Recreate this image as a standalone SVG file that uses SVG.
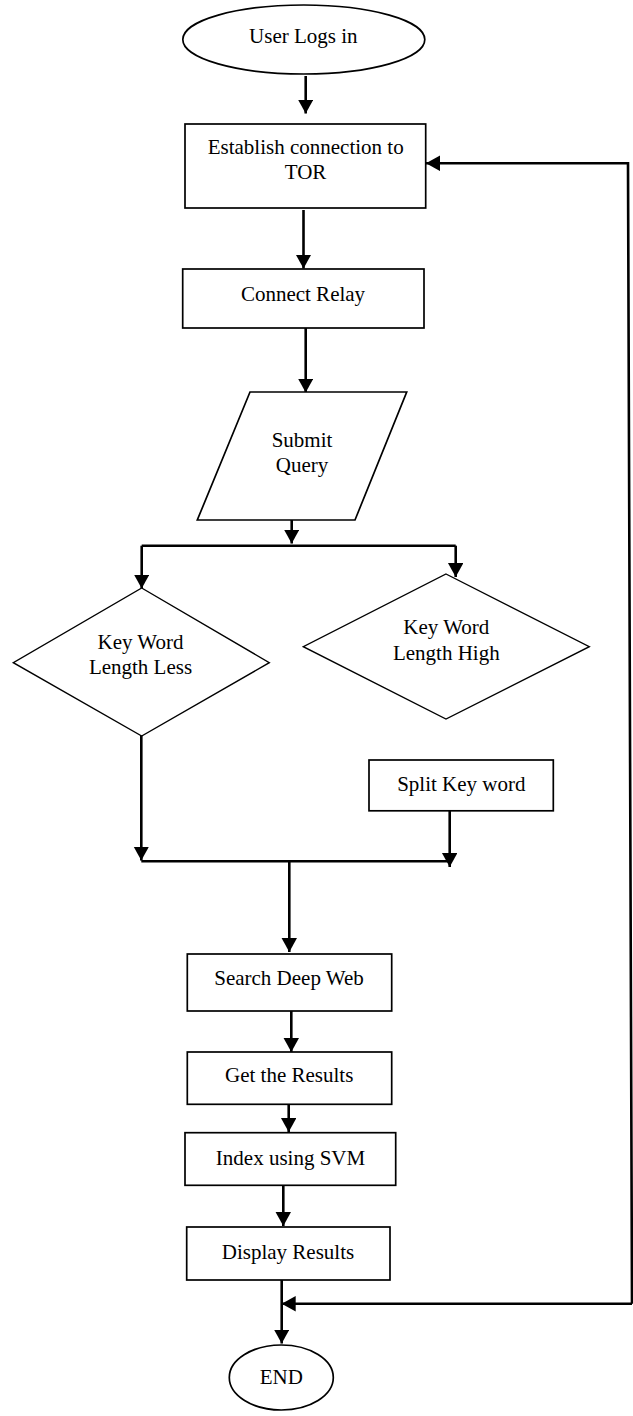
<svg xmlns="http://www.w3.org/2000/svg" width="633" height="1416" viewBox="0 0 633 1416">
<style>
.n{fill:#fff;stroke:#000;stroke-width:1.7}
.d{fill:#fff;stroke:#000;stroke-width:1.4}
.t{font-family:"Liberation Serif","Times New Roman",serif;font-size:21px;fill:#000;text-anchor:middle}
.c{fill:none;stroke:#000;stroke-width:2.6}
.a{marker-end:url(#ah)}
</style>
<defs>
<marker id="ah" markerUnits="userSpaceOnUse" markerWidth="15" markerHeight="16" refX="14" refY="7.75" orient="auto" viewBox="0 0 15 16">
<path d="M0,0 L14,7.75 L0,15.5 z" fill="#000"/>
</marker>
</defs>
<rect width="633" height="1416" fill="#fff"/>
<g id="connectors">
<path class="c a" d="M305.7,76 L305.7,113.5"/>
<path class="c a" d="M303.5,210 L303.5,268.5"/>
<path class="c a" d="M305.7,328 L305.7,392.5"/>
<path class="c a" d="M291.7,520 L291.7,543.5"/>
<path class="c" d="M141.7,545.7 L455.7,545.7"/>
<path class="c a" d="M141.7,545.7 L141.7,588.5"/>
<path class="c a" d="M455.7,545.7 L455.7,577"/>
<path class="c a" d="M141.3,736 L141.3,860.5"/>
<path class="c" d="M141.3,861.3 L449.7,861.3"/>
<path class="c a" d="M449.7,811 L449.7,867"/>
<path class="c a" d="M289.3,861.3 L289.3,952"/>
<path class="c a" d="M291.3,1011 L291.3,1052"/>
<path class="c a" d="M288.7,1104.3 L288.7,1132"/>
<path class="c a" d="M283.3,1185.3 L283.3,1226"/>
<path class="c a" d="M281.7,1280 L281.7,1343.5"/>
<path class="c a" d="M632,1303.8 L281.7,1303.8"/>
<path class="c a" d="M632,1303.8 L628,163.3 L426,163.3"/>
</g>
<g id="start">
<ellipse class="n" cx="303.8" cy="39.5" rx="121" ry="34.5"/>
<text class="t" x="303.3" y="43">User Logs in</text>
</g>
<g id="establish">
<rect class="n" x="185" y="124" width="240.7" height="84"/>
<text class="t" x="305.7" y="154">Establish connection to</text>
<text class="t" x="305.5" y="179">TOR</text>
</g>
<g id="relay">
<rect class="n" x="182.7" y="269" width="241.3" height="59"/>
<text class="t" x="303" y="300.7">Connect Relay</text>
</g>
<g id="query">
<polygon class="n" points="250,392 406.7,392 355,520 197.3,520"/>
<text class="t" x="302" y="447">Submit</text>
<text class="t" x="302" y="472">Query</text>
</g>
<g id="less">
<polygon class="d" points="141.7,588 269.3,662.7 141.7,736 13.3,662.7"/>
<text class="t" x="140.5" y="649">Key Word</text>
<text class="t" x="140.5" y="674">Length Less</text>
</g>
<g id="high">
<polygon class="d" points="446,574 589.3,646.7 446,719 303.3,646.7"/>
<text class="t" x="446.3" y="634">Key Word</text>
<text class="t" x="446.3" y="660">Length High</text>
</g>
<g id="split">
<rect class="n" x="369" y="760" width="184.3" height="50.8"/>
<text class="t" x="461.3" y="790.7">Split Key word</text>
</g>
<g id="search">
<rect class="n" x="187.3" y="954" width="204.4" height="57"/>
<text class="t" x="289" y="985">Search Deep Web</text>
</g>
<g id="results">
<rect class="n" x="187.3" y="1052" width="204.4" height="52.3"/>
<text class="t" x="289.2" y="1082">Get the Results</text>
</g>
<g id="index">
<rect class="n" x="185" y="1132.7" width="210.7" height="52.6"/>
<text class="t" x="290.5" y="1165">Index using SVM</text>
</g>
<g id="display">
<rect class="n" x="186.7" y="1227" width="203.3" height="53"/>
<text class="t" x="288" y="1259">Display Results</text>
</g>
<g id="end">
<ellipse class="n" cx="281.3" cy="1377.5" rx="52" ry="32.5"/>
<text class="t" x="281.3" y="1384">END</text>
</g>
</svg>
